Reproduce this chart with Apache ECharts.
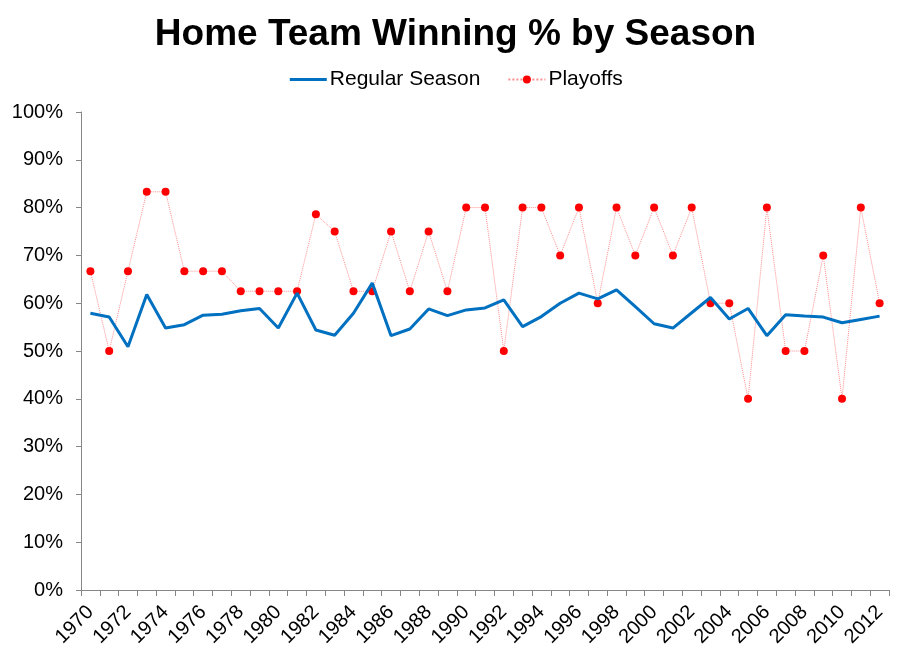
<!DOCTYPE html>
<html>
<head>
<meta charset="utf-8">
<script src="https://cdn.jsdelivr.net/npm/echarts@6/dist/echarts.min.js"></script>
<style>
  html, body { margin: 0; padding: 0; background: #fff; }
  #main { width: 911px; height: 661px; }
</style>
</head>
<body>
<div id="main"></div>
<script>
// seasons 1970 - 2012
const seasons = ['1970','1971','1972','1973','1974','1975','1976','1977','1978','1979',
    '1980','1981','1982','1983','1984','1985','1986','1987','1988','1989',
    '1990','1991','1992','1993','1994','1995','1996','1997','1998','1999',
    '2000','2001','2002','2003','2004','2005','2006','2007','2008','2009',
    '2010','2011','2012'];

// home win %
const regularSeason = [57.9, 57.1, 50.9, 61.8, 54.8, 55.5, 57.5, 57.7, 58.4, 58.9,
    54.8, 62.1, 54.4, 53.3, 57.9, 64.2, 53.2, 54.6, 58.8, 57.4,
    58.6, 59.0, 60.7, 55.1, 57.2, 60.0, 62.1, 60.9, 62.8, 59.3,
    55.7, 54.8, 58.0, 61.2, 56.7, 58.9, 53.2, 57.6, 57.3, 57.1,
    55.9, 56.6, 57.3];

const playoffs = [66.7, 50.0, 66.7, 83.3, 83.3, 66.7, 66.7, 66.7, 62.5, 62.5,
    62.5, 62.5, 78.6, 75.0, 62.5, 62.5, 75.0, 62.5, 75.0, 62.5,
    80.0, 80.0, 50.0, 80.0, 80.0, 70.0, 80.0, 60.0, 80.0, 70.0,
    80.0, 70.0, 80.0, 60.0, 60.0, 40.0, 80.0, 50.0, 50.0, 70.0,
    40.0, 80.0, 60.0];

const FONT = '"Liberation Sans", Arial, sans-serif';

var dom = document.getElementById('main');
var myChart = echarts.init(dom, null, { renderer: 'canvas' });

var option = {
    animation: false,
    backgroundColor: '#fff',
    textStyle: { fontFamily: FONT },
    title: {
        text: 'Home Team Winning % by Season',
        left: 'center',
        top: 11,
        textStyle: { fontFamily: FONT, fontSize: 37, fontWeight: 'bold', color: '#000' }
    },
    legend: {
        top: 64,
        left: 'center',
        itemWidth: 37,
        itemHeight: 10,
        itemGap: 27,
        textStyle: { fontFamily: FONT, fontSize: 21, color: '#000', padding: [0, 0, 0, -2] },
        data: [
            { name: 'Regular Season', itemStyle: { opacity: 0 }, lineStyle: { width: 3, opacity: 1 } },
            'Playoffs'
        ]
    },
    grid: {
        left: 81,
        right: 22,
        top: 112,
        bottom: 71,
        containLabel: false
    },
    xAxis: {
        type: 'category',
        data: seasons,
        boundaryGap: true,
        axisLine: { lineStyle: { color: '#868686', width: 1 } },
        axisTick: { show: true, interval: 0, length: 6, lineStyle: { color: '#868686' } },
        axisLabel: {
            interval: 1,
            rotate: 45,
            margin: 19,
            fontFamily: FONT,
            fontSize: 20,
            color: '#000'
        },
        splitLine: { show: false }
    },
    yAxis: {
        type: 'value',
        min: 0,
        max: 100,
        interval: 10,
        axisLine: { show: true, lineStyle: { color: '#868686', width: 1 } },
        axisTick: { show: true, length: 5, lineStyle: { color: '#868686' } },
        axisLabel: {
            formatter: '{value}%',
            margin: 18,
            fontFamily: FONT,
            fontSize: 20,
            color: '#000'
        },
        splitLine: { show: false }
    },
    series: [
        {
            name: 'Regular Season',
            type: 'line',
            data: regularSeason,
            showSymbol: false,
            symbol: 'none',
            itemStyle: { color: '#0070C0' },
            lineStyle: { color: '#0070C0', width: 3 },
            z: 3
        },
        {
            name: 'Playoffs',
            type: 'line',
            data: playoffs,
            symbol: 'circle',
            symbolSize: 8,
            itemStyle: { color: '#FF0000' },
            lineStyle: { color: 'rgba(255,0,0,0.45)', width: 1, type: 'dotted' },
            z: 2
        }
    ]
};

myChart.setOption(option);
</script>
</body>
</html>
